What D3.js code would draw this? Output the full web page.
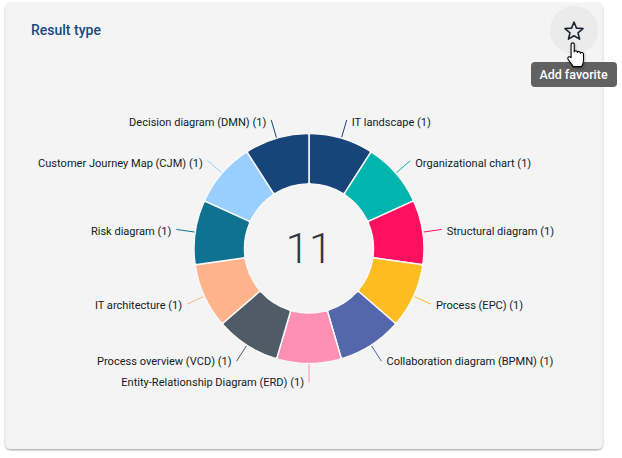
<!DOCTYPE html>
<html>
<head>
<meta charset="utf-8">
<script src="https://cdn.jsdelivr.net/npm/d3@7"></script>
<style>
  html, body { margin: 0; padding: 0; background: #fff; overflow: hidden; }
  svg { display: block; font-family: Roboto, sans-serif; }
</style>
</head>
<body>
<svg id="chart" width="622" height="458"></svg>
<script>
var categories = ["IT landscape", "Organizational chart", "Structural diagram", "Process (EPC)",
    "Collaboration diagram (BPMN)", "Entity-Relationship Diagram (ERD)", "Process overview (VCD)",
    "IT architecture", "Risk diagram", "Customer Journey Map (CJM)", "Decision diagram (DMN)"];
var counts = [1, 1, 1, 1, 1, 1, 1, 1, 1, 1, 1];
var colors = ["#17457a", "#00b5ad", "#ff0f5f", "#fdbd20", "#5467ad", "#ff90b5",
    "#4f5b66", "#ffb38a", "#0e7290", "#99cfff", "#17457a"];

var cx = 309, cy = 248.5;
var outerR = 115, innerR = 64.5, labelR = 134;

var svg = d3.select("#chart");

// sombra de la tarjeta
var defs = svg.append("defs");
var shadow = defs.append("filter").attr("id", "cardShadow")
    .attr("x", "-5%").attr("y", "-5%").attr("width", "110%").attr("height", "110%");
shadow.append("feDropShadow").attr("dx", 0).attr("dy", 1).attr("stdDeviation", 0.8)
    .attr("flood-color", "#000").attr("flood-opacity", 0.4);

svg.append("rect")
    .attr("x", 5.5).attr("y", 3)
    .attr("width", 597).attr("height", 446)
    .attr("rx", 5)
    .attr("fill", "#f4f4f4")
    .attr("filter", "url(#cardShadow)");

svg.append("text")
    .attr("x", 31).attr("y", 35)
    .attr("font-size", 14).attr("font-weight", 500)
    .attr("fill", "#1a4a80")
    .text("Result type");

var rows = categories.map(function(c, i){
    return {name: c, value: counts[i], color: colors[i]};
});
var pie = d3.pie().sort(null).value(function(d){ return d.value; });
var arc = d3.arc().innerRadius(innerR).outerRadius(outerR).cornerRadius(2);
var g = svg.append("g").attr("transform", "translate(" + cx + "," + cy + ")");
var slices = pie(rows);

function polar(r, a){
    return [r * Math.sin(a), -r * Math.cos(a)];
}
function midAngle(d){
    return (d.startAngle + d.endAngle) / 2;
}
// los textos de abajo quedan mas cerca de su linea
function labelDy(d){
    var c = Math.cos(midAngle(d));
    return c < 0 ? 6 + 3 * c : 6;
}

g.selectAll("line.leader").data(slices).enter().append("line")
    .attr("class", "leader")
    .attr("x1", function(d){ return polar(outerR - 2, midAngle(d))[0]; })
    .attr("y1", function(d){ return polar(outerR - 2, midAngle(d))[1]; })
    .attr("x2", function(d){ return polar(labelR, midAngle(d))[0]; })
    .attr("y2", function(d){ return polar(labelR, midAngle(d))[1]; })
    .attr("stroke", function(d){ return d.data.color; })
    .attr("stroke-width", 1);

g.selectAll("path.slice").data(slices).enter().append("path")
    .attr("class", "slice")
    .attr("d", arc)
    .attr("fill", function(d){ return d.data.color; })
    .attr("stroke", "#f8f8f8")
    .attr("stroke-width", 1.5);

g.selectAll("text.label").data(slices).enter().append("text")
    .attr("class", "label")
    .attr("x", function(d){
        var p = polar(labelR, midAngle(d));
        var right = midAngle(d) < Math.PI - 0.01;
        return p[0] + (right ? 5 : -5);
    })
    .attr("y", function(d){ return polar(labelR, midAngle(d))[1] + labelDy(d); })
    .attr("text-anchor", function(d){ return midAngle(d) < Math.PI - 0.01 ? "start" : "end"; })
    .attr("font-size", 11.05)
    .attr("fill", "#111c28")
    .text(function(d){ return d.data.name + " (" + d.data.value + ")"; });

g.append("text")
    .attr("x", 0).attr("y", 14.5)
    .attr("text-anchor", "middle")
    .attr("font-size", 42).attr("font-weight", 300)
    .attr("fill", "#2f3847")
    .text(d3.sum(counts));

// boton de favorito
svg.append("circle").attr("cx", 574).attr("cy", 30).attr("r", 24).attr("fill", "#ebebeb");
var starPts = d3.range(10).map(function(i){
    var r = i % 2 ? 4.2 : 9.5;
    var a = i * Math.PI / 5;
    return [574 + r * Math.sin(a), 31.5 - r * Math.cos(a)];
});
svg.append("path")
    .attr("d", d3.line()(starPts) + "Z")
    .attr("fill", "none").attr("stroke", "#1d2733").attr("stroke-width", 1.6)
    .attr("stroke-linejoin", "round");

svg.append("rect")
    .attr("x", 531).attr("y", 62).attr("width", 86).attr("height", 25).attr("rx", 4)
    .attr("fill", "#616161");
svg.append("text")
    .attr("x", 573.5).attr("y", 78.5)
    .attr("text-anchor", "middle")
    .attr("font-size", 12.5).attr("font-weight", 500)
    .attr("fill", "#fff")
    .text("Add favorite");

// cursor de mano
var handShadow = defs.append("filter").attr("id", "handShadow")
    .attr("x", "-30%").attr("y", "-30%").attr("width", "160%").attr("height", "160%");
handShadow.append("feDropShadow").attr("dx", 0.5).attr("dy", 1).attr("stdDeviation", 0.8)
    .attr("flood-color", "#000").attr("flood-opacity", 0.35);

svg.append("path")
    .attr("transform", "translate(567,42.5) scale(1.03,1.05)")
    .attr("filter", "url(#handShadow)")
    .attr("d", "M4 1.5 C4 0 7 0 7 1.5 L7 9 C7.5 7.5 10 7.5 10 9.5 C10.5 8 13 8.2 13 10.2 C13.5 9 16 9.3 16 11 L16 17 C16 20 15 21 14 23 L6 23 C5 21 3 19 1 16 C0 14 2 12.5 4 14.5 Z")
    .attr("fill", "#fff").attr("stroke", "#000").attr("stroke-width", 1)
    .attr("stroke-linejoin", "round");
</script>
</body>
</html>
